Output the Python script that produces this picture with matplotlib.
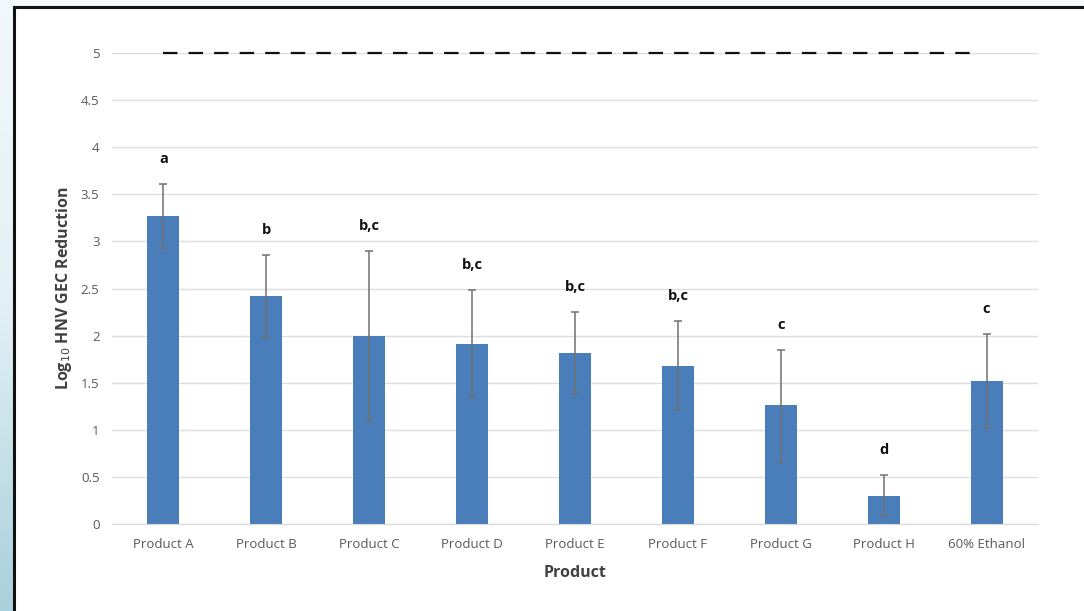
import numpy as np
import matplotlib.pyplot as plt
from matplotlib.colors import LinearSegmentedColormap

products = ['Product A', 'Product B', 'Product C', 'Product D', 'Product E',
            'Product F', 'Product G', 'Product H', '60% Ethanol']
reduction = [3.27, 2.42, 2.00, 1.91, 1.81, 1.68, 1.26, 0.30, 1.52]
err_upper = [3.61, 2.86, 2.90, 2.48, 2.25, 2.16, 1.85, 0.52, 2.02]
err_lower = [2.93, 1.98, 1.09, 1.35, 1.38, 1.21, 0.66, 0.09, 1.02]
groups = ['a', 'b', 'b,c', 'b,c', 'b,c', 'b,c', 'c', 'd', 'c']
target = 5

plt.rcParams['font.family'] = ['Open Sans', 'DejaVu Sans']

fig = plt.figure(figsize=(10.84, 6.11), dpi=100)
fig.patch.set_facecolor('#f2f8fb')

# slide background: blue gradient strip on the left, white panel with frame
bg = fig.add_axes([0, 0, 1, 1], zorder=-10)
bg.set_xlim(0, 1084)
bg.set_ylim(611, 0)
bg.axis('off')
cmap = LinearSegmentedColormap.from_list('strip', ['#f2f8fb', '#e2f0f5', '#a9d0dc'])
grad = np.linspace(0, 1, 256).reshape(-1, 1)
bg.imshow(grad, cmap=cmap, extent=[0, 13, 611, 0], aspect='auto')
bg.add_patch(plt.Rectangle((14, 7), 1100, 700, facecolor='white', edgecolor='none'))
bg.plot([14, 14], [611, 7], color='#111111', lw=2.2)
bg.plot([14, 1084], [7, 7], color='#111111', lw=2.2)

ax = fig.add_axes([112 / 1084, 1 - 524 / 611, 926 / 1084, 471 / 611])
ax.set_facecolor('none')

x = np.arange(len(products))
yerr = [np.array(reduction) - np.array(err_lower), np.array(err_upper) - np.array(reduction)]
ax.bar(x, reduction, width=0.31, color='#4a7ebb', zorder=2)
ax.errorbar(x, reduction, yerr=yerr, fmt='none', ecolor='#707070', elinewidth=1.1,
            capsize=3, capthick=1.1, zorder=3)

for xi, top, g in zip(x, err_upper, groups):
    ax.text(xi, top + 0.19, g, ha='center', va='bottom', fontsize=10.5,
            fontweight='bold', color='#111111')

ax.plot([x[0], x[-1] - 0.06], [target, target], color='#111111', lw=1.6,
        dashes=(6.5, 5), zorder=4, clip_on=False)

ax.set_xlim(-0.5, len(products) - 0.5)
ax.set_ylim(0, 5)
ax.set_yticks(np.arange(0, 5.01, 0.5))
ax.set_yticklabels(['0', '0.5', '1', '1.5', '2', '2.5', '3', '3.5', '4', '4.5', '5'])
ax.set_xticks(x)
ax.set_xticklabels(products)
ax.tick_params(axis='both', length=0, labelsize=9.5, labelcolor='#595959')
ax.tick_params(axis='y', pad=9)
ax.tick_params(axis='x', pad=10)
ax.grid(axis='y', color='#dedede', lw=1, zorder=0)
for side in ['top', 'right', 'left']:
    ax.spines[side].set_visible(False)
ax.spines['bottom'].set_color('#d9d9d9')

ax.set_xlabel('Product', fontsize=11.5, fontweight='bold', color='#404040', labelpad=10)
ax.set_ylabel('Log$_{10}$ HNV GEC Reduction', fontsize=11.5, fontweight='bold',
              color='#404040', labelpad=5)

plt.savefig('out.png', dpi=100)
